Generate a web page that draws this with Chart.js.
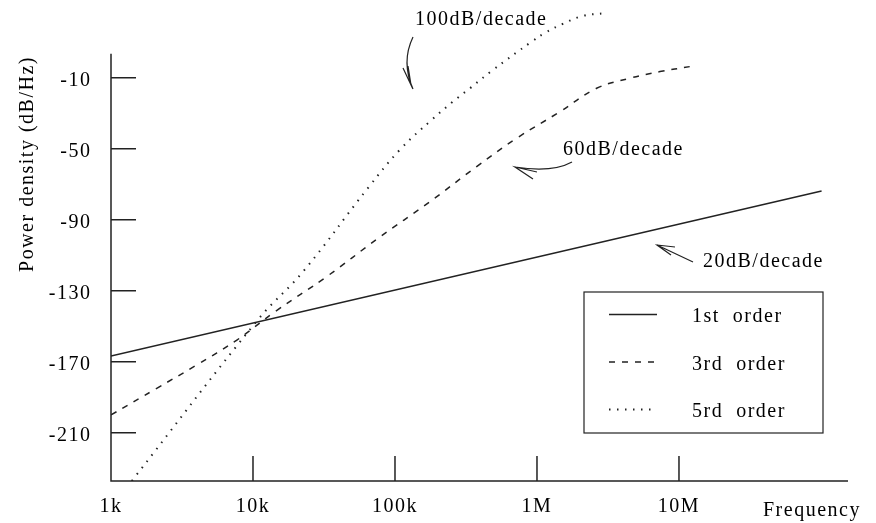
<!DOCTYPE html>
<html>
<head>
<meta charset="utf-8">
<script src="https://cdn.jsdelivr.net/npm/chart.js@4.4.0/dist/chart.umd.min.js"></script>
<style>
  html, body { margin: 0; padding: 0; background: #fff; }
</style>
</head>
<body>
<canvas id="psd" width="876" height="523"></canvas>
<script>
// axis ticks
const xTicks = [1e3, 1e4, 1e5, 1e6, 1e7];
const xTickLabels = ['1k', '10k', '100k', '1M', '10M'];
const yTicks = [-210, -170, -130, -90, -50, -10];

// series (frequency in Hz, power density in dB/Hz)
const seriesLabels = ['1st  order', '3rd  order', '5rd  order'];

const firstFreq = [1e3, 1.01e8];
const firstDb = [-166.8, -73.8];

const thirdFreq = [1000, 2100, 4000, 7700, 14300, 33000, 76000, 176000, 376000, 720000,
  1.45e6, 2.63e6, 4.52e6, 7.35e6, 1.19e7];
const thirdDb = [-200.0, -185.0, -171.9, -157.8, -141.8, -122.1, -100.5, -79.9, -60.1, -44.1,
  -29.2, -16.0, -10.3, -6.6, -3.8];

const fifthFreq = [1400, 10800, 22500, 64600, 108000, 181000, 256000, 337000, 480000, 918000,
  1.14e6, 1.52e6, 2.11e6, 3.01e6];
const fifthDb = [-237.2, -146.5, -119.3, -72.1, -50.7, -33.8, -23.5, -16.0, -6.2, 10.3,
  15.2, 20.3, 24.8, 26.3];

const pts = (f, d) => f.map((v, i) => ({ x: v, y: d[i] }));
const FONT = '20px "Liberation Serif"';
const INK = '#222';

Chart.defaults.font.family = '"Liberation Serif", serif';
Chart.defaults.font.size = 20;
Chart.defaults.color = '#000';

// no label overhang padding, so the plot area sits where the layout says
const noPad = s => {
  s.paddingTop = 0; s.paddingBottom = 0;
  s.paddingLeft = 0; s.paddingRight = 0;
};

// axes, inner ticks, legend box and the slope notes
const frame = {
  id: 'frame',
  beforeDraw(chart) {
    chart.ctx.letterSpacing = '1.5px';
  },
  afterDraw(chart) {
    const { ctx, chartArea: a, scales: { x, y } } = chart;
    ctx.save();
    ctx.strokeStyle = INK;
    ctx.fillStyle = '#000';
    ctx.lineWidth = 1.5;

    // axis lines + inward ticks
    ctx.beginPath();
    ctx.moveTo(a.left, y.getPixelForValue(3.4));
    ctx.lineTo(a.left, a.bottom);
    ctx.lineTo(a.right, a.bottom);
    yTicks.forEach(v => {
      const p = y.getPixelForValue(v);
      ctx.moveTo(a.left, p);
      ctx.lineTo(a.left + 25, p);
    });
    xTicks.slice(1).forEach(v => {
      const p = x.getPixelForValue(v);
      ctx.moveTo(p, a.bottom);
      ctx.lineTo(p, a.bottom - 25);
    });
    ctx.stroke();

    ctx.font = FONT;
    ctx.textBaseline = 'alphabetic';

    // y title
    ctx.save();
    ctx.translate(28, 164);
    ctx.rotate(-Math.PI / 2);
    ctx.textAlign = 'center';
    ctx.textBaseline = 'middle';
    ctx.fillText('Power density (dB/Hz)', 0, 0);
    ctx.restore();

    // x title
    ctx.textAlign = 'left';
    ctx.fillText('Frequency', 763, 516);

    // slope notes
    ctx.fillText('100dB/decade', 415, 25);
    ctx.fillText('60dB/decade', 563, 155);
    ctx.fillText('20dB/decade', 703, 267);

    ctx.lineWidth = 1.2;
    ctx.beginPath();
    ctx.moveTo(413, 37);
    ctx.quadraticCurveTo(401, 62, 413, 89);
    ctx.moveTo(403, 68); ctx.lineTo(411, 85); ctx.lineTo(408, 66);

    ctx.moveTo(572, 162);
    ctx.quadraticCurveTo(552, 173, 515, 167);
    ctx.moveTo(533, 179); ctx.lineTo(515, 167); ctx.lineTo(537, 172);

    ctx.moveTo(693, 262);
    ctx.lineTo(657, 245);
    ctx.moveTo(675, 247); ctx.lineTo(657, 245); ctx.lineTo(671, 255);
    ctx.stroke();

    // legend
    ctx.lineWidth = 1.2;
    ctx.strokeRect(584, 292, 239, 141);
    chart.data.datasets.forEach((ds, i) => {
      const yy = 314.5 + i * 47.5;
      ctx.lineWidth = ds.borderWidth;
      ctx.setLineDash(ds.borderDash || []);
      ctx.beginPath();
      ctx.moveTo(609, yy);
      ctx.lineTo(657, yy);
      ctx.stroke();
      ctx.setLineDash([]);
      ctx.fillText(ds.label, 692, yy + 7.5);
    });
    ctx.restore();
  }
};

new Chart(document.getElementById('psd'), {
  type: 'line',
  data: {
    datasets: [
      { label: seriesLabels[0], data: pts(firstFreq, firstDb),
        borderColor: INK, borderWidth: 1.5, pointRadius: 0 },
      { label: seriesLabels[1], data: pts(thirdFreq, thirdDb),
        borderColor: INK, borderWidth: 1.5, borderDash: [6, 7], pointRadius: 0,
        tension: 0.4 },
      { label: seriesLabels[2], data: pts(fifthFreq, fifthDb),
        borderColor: INK, borderWidth: 2, borderDash: [1.5, 6.5], pointRadius: 0,
        tension: 0.4 }
    ]
  },
  options: {
    responsive: false,
    animation: false,
    layout: { padding: { top: 10, right: 28, left: 0, bottom: 0 } },
    plugins: { legend: { display: false }, tooltip: { enabled: false } },
    scales: {
      x: {
        type: 'logarithmic',
        min: 1e3,
        max: 1.55e8,
        border: { display: false },
        grid: { display: false, drawTicks: false },
        afterBuildTicks: s => { s.ticks = xTicks.map(v => ({ value: v })); },
        afterFit: s => { s.height = 42; noPad(s); },
        ticks: {
          padding: 14,
          maxRotation: 0,
          autoSkip: false,
          callback: (v, i) => xTickLabels[i]
        }
      },
      y: {
        type: 'linear',
        min: -237.2,
        max: 28.1,
        border: { display: false },
        grid: { display: false, drawTicks: false },
        afterBuildTicks: s => { s.ticks = yTicks.map(v => ({ value: v })); },
        afterFit: s => { s.width = 111; noPad(s); },
        ticks: {
          padding: 19.5,
          labelOffset: 3,
          callback: v => String(v)
        }
      }
    }
  },
  plugins: [frame]
});
</script>
</body>
</html>
